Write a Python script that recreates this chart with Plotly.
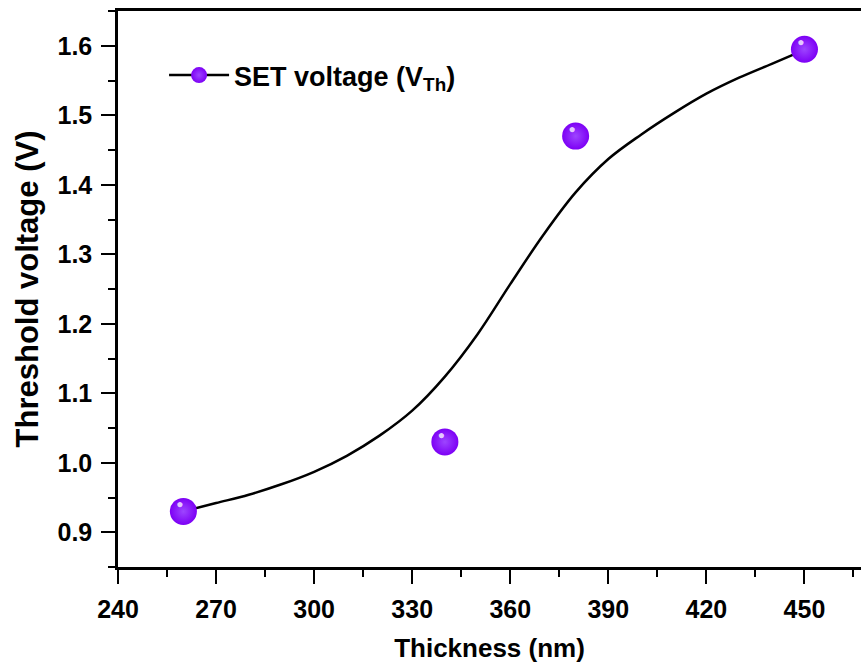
import plotly.graph_objects as go

# Measured data
thickness = [260, 340, 380, 450]
vth = [0.93, 1.03, 1.47, 1.595]

# Fitted curve
fit_x = [260, 270, 280, 290, 300, 310, 320, 330, 340, 350, 360, 370, 380, 390, 400, 410, 420, 430, 440, 450]
fit_y = [0.930, 0.942, 0.954, 0.969, 0.987, 1.010, 1.039, 1.075, 1.124, 1.185, 1.257, 1.327, 1.389, 1.437, 1.472, 1.503, 1.531, 1.554, 1.574, 1.594]

x_ticks = [240, 270, 300, 330, 360, 390, 420, 450]
y_ticks = [0.9, 1.0, 1.1, 1.2, 1.3, 1.4, 1.5, 1.6]
y_tick_labels = ["0.9", "1.0", "1.1", "1.2", "1.3", "1.4", "1.5", "1.6"]

FONT = "Liberation Sans, Arial, sans-serif"
PURPLE = "#7D00F5"
PURPLE_LIGHT = "#9D45FF"

fig = go.Figure()

fig.add_trace(go.Scatter(
    x=fit_x, y=fit_y, mode="lines",
    line=dict(color="black", width=2.5, shape="spline", smoothing=1.0),
    showlegend=False, hoverinfo="skip",
))

fig.add_trace(go.Scatter(
    x=thickness, y=vth, mode="markers",
    marker=dict(size=27, color=PURPLE,
                gradient=dict(type="radial", color=PURPLE_LIGHT),
                line=dict(width=0)),
    showlegend=False,
))

# highlight on spheres
fig.add_trace(go.Scatter(
    x=thickness, y=vth, mode="text", text=["●"] * len(thickness),
    textposition="top left",
    textfont=dict(size=12, color="rgba(240,225,255,0.9)"),
    showlegend=False, hoverinfo="skip",
))

# legend entry
fig.add_trace(go.Scatter(
    x=[None], y=[None], mode="lines+markers",
    name="SET voltage (V<sub>Th</sub>)",
    line=dict(color="black", width=2.5),
    marker=dict(size=22, color=PURPLE,
                gradient=dict(type="radial", color=PURPLE_LIGHT)),
))

fig.update_layout(
    width=861, height=667,
    margin=dict(l=118, r=0, t=11, b=100),
    paper_bgcolor="white", plot_bgcolor="white",
    font=dict(family=FONT, color="black"),
    showlegend=True,
    legend=dict(x=0.062, y=0.928, xanchor="left", yanchor="top",
                bgcolor="rgba(0,0,0,0)", itemwidth=60,
                font=dict(size=27, weight="bold", family=FONT)),
    xaxis=dict(
        range=[240, 467.3], tickvals=x_ticks,
        showline=True, linecolor="black", linewidth=2.5, mirror=True,
        ticks="outside", ticklen=14, tickwidth=2, tickcolor="black",
        minor=dict(dtick=15, ticks="outside", ticklen=7, tickwidth=2, tickcolor="black", tick0=240),
        showgrid=False, zeroline=False,
        tickfont=dict(size=25, weight="bold", family=FONT),
        ticklabelstandoff=4,
        title=dict(text="Thickness (nm)", font=dict(size=26, weight="bold", family=FONT), standoff=18),
    ),
    yaxis=dict(
        range=[0.85, 1.65], tickvals=y_ticks, ticktext=y_tick_labels,
        showline=True, linecolor="black", linewidth=2.5, mirror=False,
        ticks="outside", ticklen=14, tickwidth=2, tickcolor="black",
        minor=dict(dtick=0.05, tick0=0.85, ticks="outside", ticklen=7, tickwidth=2, tickcolor="black"),
        showgrid=False, zeroline=False,
        tickfont=dict(size=25, weight="bold", family=FONT),
        ticklabelstandoff=4,
        title=dict(text="Threshold voltage (V)", font=dict(size=31, weight="bold", family=FONT), standoff=10),
    ),
)

fig.write_html("out.html")
